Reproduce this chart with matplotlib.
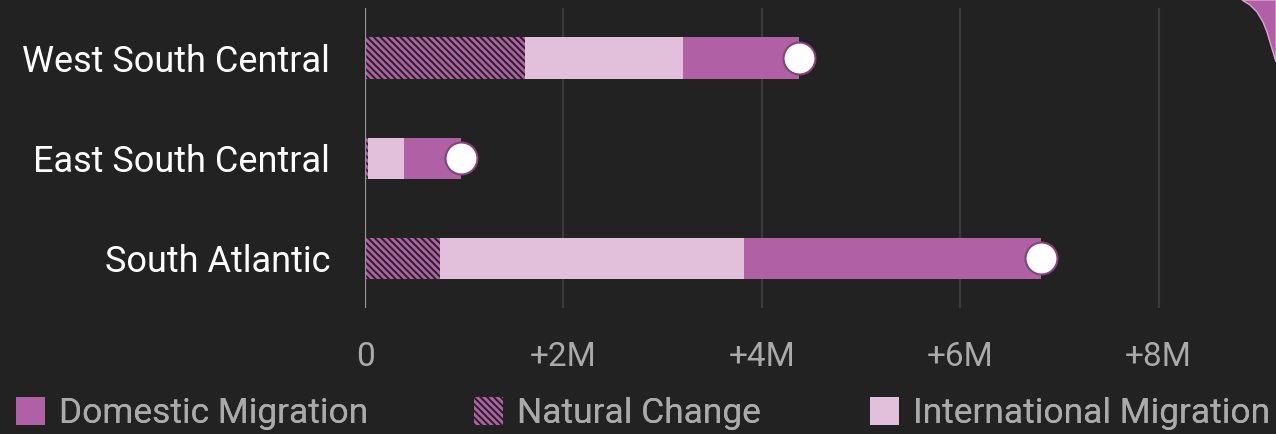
import numpy as np
import matplotlib.pyplot as plt
from matplotlib.patches import Patch, Polygon

plt.rcParams['font.family'] = ['Roboto', 'DejaVu Sans']
plt.rcParams['hatch.linewidth'] = 2.0

# data (millions)
regions = ["South Atlantic", "East South Central", "West South Central"]
natural = [0.76, 0.03, 1.61]
international = [3.06, 0.36, 1.60]
domestic = [2.99, 0.58, 1.17]
ticks = [0, 2, 4, 6, 8]
tick_labels = ["0", "+2M", "+4M", "+6M", "+8M"]

bg = "#222222"
c_dom = "#b060a5"
c_int = "#e2bfdb"
hatch = "\\" * 5

fig = plt.figure(figsize=(12.76, 4.34), dpi=100)
fig.patch.set_facecolor(bg)
ax = fig.add_axes([365 / 1276, 1 - 308 / 434, (1228 - 365) / 1276, 300 / 434])
ax.set_facecolor(bg)

y = np.arange(len(regions))
nat = np.array(natural)
intl = np.array(international)
dom = np.array(domestic)
h = 0.41

ax.barh(y, nat, height=h, color=bg, edgecolor=c_dom, hatch=hatch, linewidth=0,
        antialiased=False, zorder=3)
ax.barh(y, intl, left=nat, height=h, color=c_int, linewidth=0, zorder=3)
ax.barh(y, dom, left=nat + intl, height=h, color=c_dom, linewidth=0, zorder=3)
total = nat + intl + dom
ax.plot(total, y, "o", ms=23, mfc="white", mec="#8a3f80", mew=1.5, zorder=4, clip_on=False)

ax.set_xlim(0, 8.7)
ax.set_ylim(-0.5, 2.5)
ax.set_xticks(ticks)
ax.set_xticklabels(tick_labels)
ax.set_yticks(y)
ax.set_yticklabels(regions)
ax.tick_params(axis="x", length=0, pad=24, labelsize=24, labelcolor="#aaaaaa")
ax.tick_params(axis="y", length=0, pad=25, labelsize=26, labelcolor="white")
for t in ticks[1:]:
    ax.axvline(t, color="#3a3a3a", lw=1.6, zorder=1)
ax.axvline(0, color="#999999", lw=1.6, zorder=5)
for s in ax.spines.values():
    s.set_visible(False)

handles = [
    Patch(facecolor=c_dom, edgecolor="none", label="Domestic Migration"),
    Patch(facecolor=bg, edgecolor=c_dom, hatch=hatch, linewidth=0, antialiased=False,
          label="Natural Change"),
    Patch(facecolor=c_int, edgecolor="none", label="International Migration"),
]
starts = [12, 470, 866]
for hd, x0 in zip(handles, starts):
    lg = fig.legend(handles=[hd], loc="lower left", bbox_to_anchor=(x0 / 1276, 0.0),
                    frameon=False, fontsize=25.5, labelcolor="#aaaaaa", handlelength=0.82,
                    handleheight=0.82, handletextpad=0.4, borderpad=0.0, borderaxespad=0.1)
    fig.add_artist(lg)

# decorative blob in the top-right corner
pts = np.array([[1242, 0], [1276, 0], [1276, 62], [1273, 52], [1270, 42], [1267, 32],
                [1263, 22], [1257, 12], [1250, 5]], dtype=float)
pts = np.column_stack([pts[:, 0] / 100.0, (434 - pts[:, 1]) / 100.0])
blob = Polygon(pts, closed=True, transform=fig.dpi_scale_trans,
               facecolor=c_dom, edgecolor="#d9a8cf", lw=1)
fig.patches.append(blob)

fig.savefig("out.png", dpi=100, facecolor=bg)
